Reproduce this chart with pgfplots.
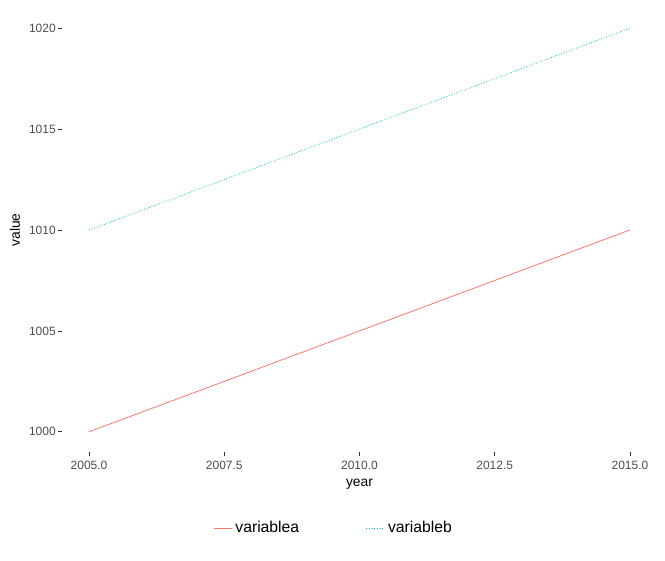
\documentclass[border=0pt]{standalone}
\usepackage{fontspec}
\setmainfont{Liberation Sans}
\usepackage{pgfplots}
\pgfplotsset{compat=1.18}
\definecolor{ca}{HTML}{F8766D}
\definecolor{cb}{HTML}{00BFC4}
\definecolor{tickgray}{HTML}{4D4D4D}
\definecolor{tickline}{HTML}{333333}
\begin{document}
\begin{tikzpicture}
\useasboundingbox (0pt,0pt) rectangle (498.75pt,420.75pt);
\begin{axis}[
  at={(46.5pt,81.75pt)}, anchor=south west,
  scale only axis, width=446.25pt, height=333pt,
  xmin=2004.5, xmax=2015.5, ymin=999, ymax=1021,
  axis x line*=bottom, axis y line*=left,
  axis line style={draw=none},
  tick align=outside, major tick length=3pt,
  tick style={color=tickline, line width=0.6pt},
  xtick={2005,2007.5,2010,2012.5,2015},
  ytick={1000,1005,1010,1015,1020},
  /pgf/number format/assume math mode=true,
  /pgf/number format/1000 sep={},
  xticklabel style={/pgf/number format/.cd, fixed, fixed zerofill, precision=1},
  ticklabel style={font=\fontsize{9}{10}\selectfont, color=tickgray},
  yticklabel style={inner sep=1.5pt},
  xlabel={year}, ylabel={value},
  label style={font=\fontsize{10.4}{12}\selectfont},
  x label style={at={(axis description cs:0.5,-0.072)}, anchor=center},
  y label style={at={(axis description cs:-0.079,0.5)}, anchor=center},
  legend columns=2,
  legend style={at={(axis description cs:0.457,-0.171)}, anchor=center, draw=none, fill=none,
    font=\fontsize{11.8}{14}\selectfont,
    /tikz/every even column/.append style={column sep=48pt}},
  legend image code/.code={\draw[#1] (0pt,0pt) -- (14pt,0pt);},
]
\addplot[color=ca, line width=0.6pt] coordinates {
(2005,1000)(2006,1001)(2007,1002)(2008,1003)(2009,1004)(2010,1005)(2011,1006)(2012,1007)(2013,1008)(2014,1009)(2015,1010)};
\addlegendentry{variablea}
\addplot[color=cb, line width=0.6pt, dash pattern=on 0.6pt off 1.4pt] coordinates {
(2005,1010)(2006,1011)(2007,1012)(2008,1013)(2009,1014)(2010,1015)(2011,1016)(2012,1017)(2013,1018)(2014,1019)(2015,1020)};
\addlegendentry{variableb}
\end{axis}
\end{tikzpicture}
\end{document}
